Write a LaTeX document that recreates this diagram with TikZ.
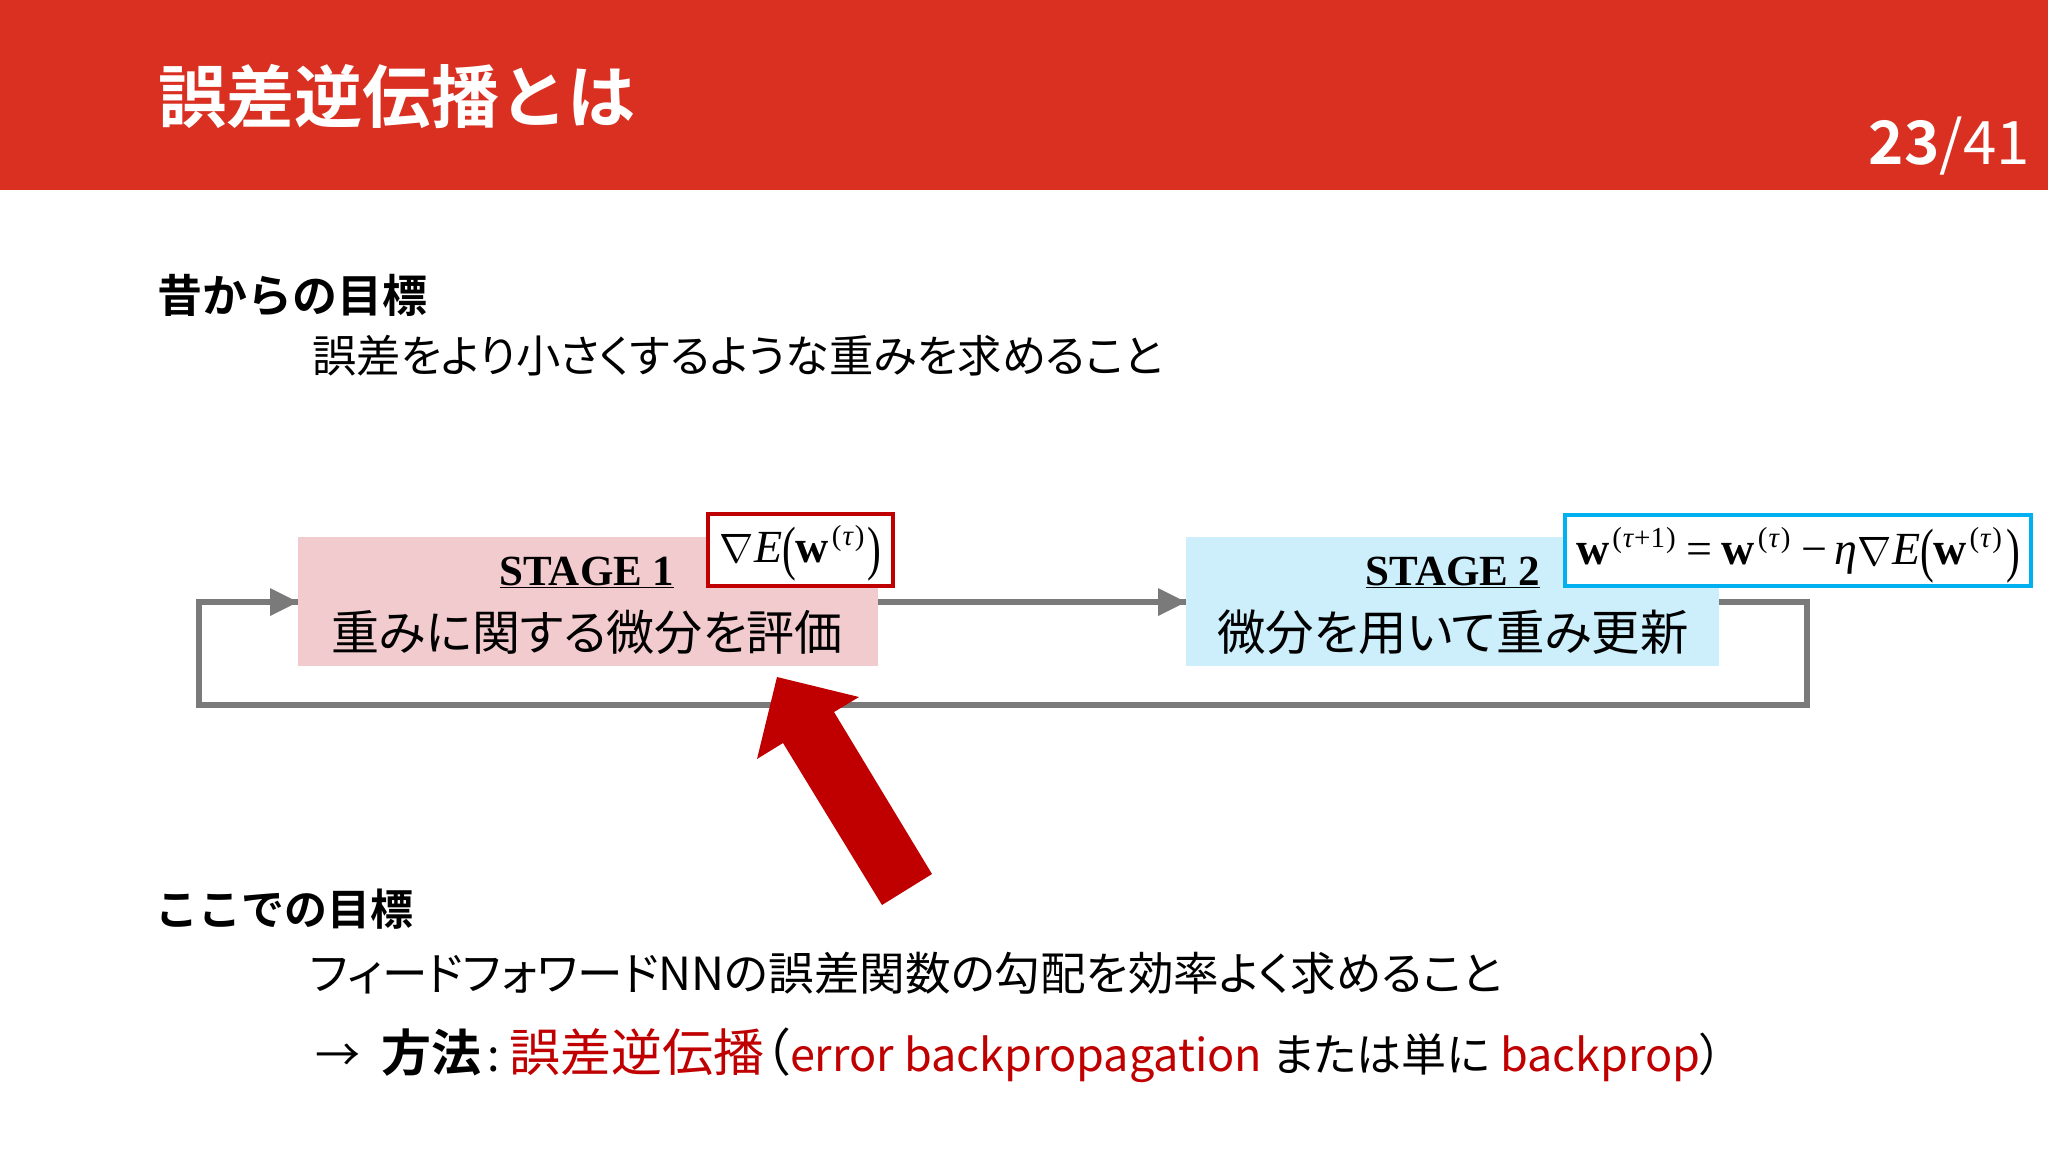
\documentclass[tikz,border=0pt]{standalone}
\usepackage{fontspec}
\setmainfont{Liberation Serif}
\newfontfamily\jp[RawFeature=+palt,BoldFont={Noto Sans CJK JP Bold}]{Noto Sans CJK JP}
\newfontfamily\jpfull[BoldFont={Noto Sans CJK JP Bold}]{Noto Sans CJK JP}
\newfontfamily\ser{Liberation Serif}
\definecolor{hdr}{HTML}{D93022}
\definecolor{dred}{HTML}{C00000}
\definecolor{sky}{HTML}{00B0F0}
\definecolor{pinkbox}{HTML}{F2CBCE}
\definecolor{bluebox}{HTML}{CDEEFB}
\definecolor{lgray}{HTML}{7A7A7A}
\newcommand{\fs}[1]{\fontsize{#1}{#1}\selectfont}
\newcommand{\tallp}[1]{\raisebox{-6pt}{\scalebox{0.9}[1.3]{#1}}}
\newcommand{\wt}[1]{\textbf{w}\kern3pt\raisebox{17pt}{\fs{29}(\kern1pt\textit{τ}#1\kern1pt)}}
\newcommand{\gradE}{\raisebox{-0.5pt}{\scalebox{1.65}{$\nabla$}}\kern1pt\textit{E}\tallp{(}\kern-1pt}
\tikzset{
  lbl/.style={inner sep=0pt,outer sep=0pt,anchor=west,text=black},
  stagebox/.style={inner sep=0pt,outer sep=0pt,anchor=north west},
  formula/.style={draw,line width=4.5pt,fill=white,inner sep=0pt,outer sep=0pt,anchor=north west},
  flow/.style={draw=lgray,line width=5.5pt},
  tri/.style={fill=lgray,draw=none},
}
\begin{document}
\begin{tikzpicture}[x=1pt,y=-1pt]
\useasboundingbox (0,0) rectangle (2048,1152);
\fill[hdr] (0,0) rectangle (2048,190);
\node[lbl,text=white] (title) at (158,96) {\jpfull\fs{68.3}\bfseries 誤差逆伝播とは};
\node[inner sep=0pt,anchor=east,text=white] (page) at (2030,146) {\jpfull\fs{60}\textbf{23}/41};

\node[lbl] (goala) at (157,295) {\jpfull\fs{45}\bfseries 昔からの目標};
\node[lbl] (goalb) at (312,356) {\jp\fs{44.3}誤差をより小さくするような重みを求めること};

% stage boxes
\node[stagebox,fill=pinkbox,minimum width=580pt,minimum height=129pt] (s1) at (298,537) {};
\node[stagebox,fill=bluebox,minimum width=533pt,minimum height=129pt] (s2) at (1186,537) {};

% connectors
\coordinate (ra) at (1807,602);
\coordinate (rb) at (1807,705);
\coordinate (lb) at (199,705);
\coordinate (la) at (199,602);
\draw[flow] (s1.east |- ra) -- (s2.west |- ra);
\draw[flow,line join=miter] (s2.east |- ra) -- (ra) -- (rb) -- (lb) -- (la) -- (s1.west |- la);
\fill[tri] (s1.west |- la) -- ++(-28,-14) -- ++(0,28) -- cycle;
\fill[tri] (s2.west |- ra) -- ++(-28,-14) -- ++(0,28) -- cycle;

% texts in boxes
\node[inner sep=0pt] (s1t) at (587,572) {\ser\fs{43}\bfseries\underline{STAGE 1}};
\node[inner sep=0pt] (s1b) at (587,632) {\jp\fs{48}重みに関する微分を評価};
\node[inner sep=0pt] (s2t) at (1453,572) {\ser\fs{43}\bfseries\underline{STAGE 2}};
\node[inner sep=0pt] (s2b) at (1453,632) {\jp\fs{48.4}微分を用いて重み更新};

% formula boxes
\node[formula,draw=dred,minimum width=185pt,minimum height=72pt] (f1) at (708,514) {\raisebox{0pt}[\dimexpr\height+6pt\relax][\depth]{\fs{46}\ser\gradE\wt{}\kern3pt\tallp{)}}};
\node[formula,draw=sky,minimum width=466pt,minimum height=71pt] (f2) at (1565,515) {\raisebox{0pt}[\dimexpr\height+10pt\relax][\depth]{\fs{46}\ser\wt{+1}\kern11pt=\kern9pt\wt{}\kern11pt−\kern7pt\textit{η}\gradE\wt{}\kern4pt\tallp{)}}};

% big arrow
\fill[dred] (777,677) -- (859,697) -- (834,712) -- (932,874) -- (882,905) -- (783,743) -- (757,759) -- cycle;

\node[lbl] (goalc) at (155,909) {\jpfull\fs{43}\bfseries ここでの目標};
\node[lbl] (goald) at (310,973) {\jp\fs{45.6}フィードフォワードNNの誤差関数の勾配を効率よく求めること};
\node[lbl] (goale) at (315,1055) {\jp\fs{45}→\kern21pt{\fs{50}\textbf{方法}}\kern6pt:\kern10pt{\fs{51}\textcolor{dred}{誤差逆伝播}（}\kern0pt\textcolor{dred}{error backpropagation} または単に\ \textcolor{dred}{backprop}）};
\end{tikzpicture}
\end{document}
